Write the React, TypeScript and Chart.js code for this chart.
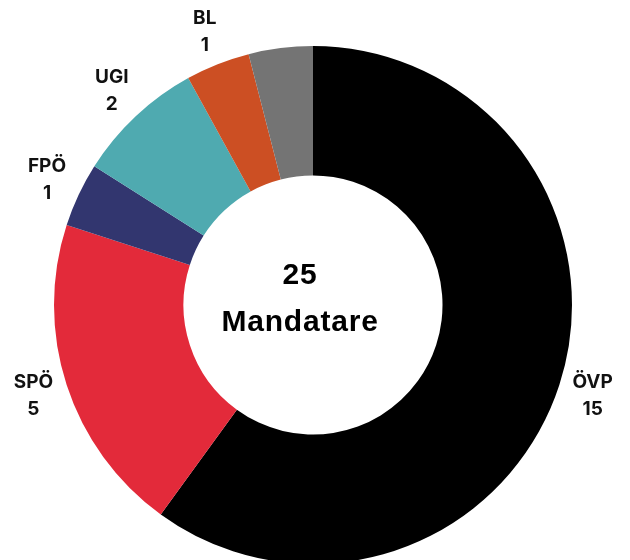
import React, { useEffect, useRef } from "react";
import { Chart, registerables } from "chart.js";

Chart.register(...registerables);

const parties = ["ÖVP", "SPÖ", "FPÖ", "UGI", "BL", ""];
const seats = [15, 5, 1, 2, 1, 1];
const colors = ["#000000", "#E32A3A", "#32366F", "#4FAAB0", "#CC4F23", "#747474"];
const centerLines = ["25", "Mandatare"];

const labelPlugin = {
  id: "outerLabels",
  afterDatasetsDraw(chart: any) {
    const meta = chart.getDatasetMeta(0);
    const ctx = chart.ctx;
    ctx.save();
    ctx.fillStyle = "#111111";
    ctx.textAlign = "center";
    ctx.textBaseline = "middle";
    ctx.font = "bold 19px Inter";
    meta.data.forEach((arc: any, i: number) => {
      const name = parties[i];
      if (!name) return;
      const p = arc.getProps(["x", "y", "startAngle", "endAngle", "outerRadius"], true);
      const mid = (p.startAngle + p.endAngle) / 2;
      const r = p.outerRadius + 35;
      const lx = p.x + Math.cos(mid) * r;
      const ly = p.y + Math.sin(mid) * r;
      ctx.fillText(name, lx, ly - 13.5);
      ctx.fillText(String(seats[i]), lx, ly + 13.5);
    });
    const a0 = meta.data[0];
    if (a0) {
      const cx = a0.x - 13;
      const cy = a0.y;
      ctx.fillStyle = "#000000";
      ctx.font = "bold 30px 'Liberation Sans', Arial";
      try { (ctx as any).letterSpacing = "0.8px"; } catch (e) {}
      ctx.fillText(centerLines[0], cx, cy - 29);
      ctx.fillText(centerLines[1], cx, cy + 18);
    }
    ctx.restore();
  },
};

export default function App() {
  const ref = useRef<HTMLCanvasElement | null>(null);
  useEffect(() => {
    if (!ref.current) return;
    const chart = new Chart(ref.current, {
      type: "doughnut",
      data: {
        labels: parties,
        datasets: [
          {
            data: seats,
            backgroundColor: colors,
            borderWidth: 0,
            hoverOffset: 0,
          },
        ],
      },
      options: {
        animation: false,
        responsive: true,
        maintainAspectRatio: false,
        cutout: "50%",
        layout: { padding: { left: 46, top: 38, right: 50, bottom: 24 } },
        plugins: {
          legend: { display: false },
          tooltip: { enabled: false },
        },
      },
      plugins: [labelPlugin],
    });
    return () => chart.destroy();
  }, []);
  return (
    <div style={{ width: 614, height: 580, position: "relative" }}>
      <canvas ref={ref} />
    </div>
  );
}
